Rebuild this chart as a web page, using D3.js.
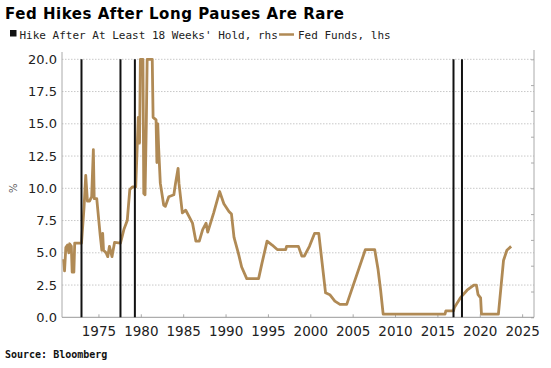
<!DOCTYPE html>
<html>
<head>
<meta charset="utf-8">
<script src="https://cdn.jsdelivr.net/npm/d3@7"></script>
<style>
  body { margin: 0; background: #fff; }
  svg { display: block; }
</style>
</head>
<body>
<svg width="551" height="368"></svg>
<script>
// Fed funds rate (decimal year, percent)
const fedYears = [1970.9, 1971.0, 1971.15, 1971.35, 1971.5, 1971.6, 1971.8, 1971.9, 1972.1, 1972.2, 1973.0,
  1973.3, 1973.5, 1973.7, 1973.95, 1974.2, 1974.4, 1974.5, 1974.8, 1975.2, 1975.4, 1975.5, 1975.6, 1975.9,
  1976.1, 1976.3, 1976.6, 1976.9, 1977.6, 1978.0, 1978.4, 1978.7, 1979.0, 1979.4, 1979.7, 1979.85, 1979.95,
  1980.25, 1980.35, 1980.5, 1980.65, 1980.75, 1981.35, 1981.45, 1981.8, 1981.9, 1982.0, 1982.1, 1982.3,
  1982.7, 1982.9, 1983.3, 1983.9, 1984.1, 1984.4, 1984.5, 1984.9, 1985.3, 1985.7, 1986.1, 1986.5, 1986.9,
  1987.3, 1987.7, 1987.9, 1988.6, 1989.3, 1989.8, 1990.4, 1990.7, 1991.0, 1991.5, 1991.9, 1992.5, 1993.9,
  1994.3, 1994.9, 1995.5, 1996.1, 1997.1, 1997.2, 1998.6, 1999.0, 1999.3, 1999.9, 2000.5, 2001.0, 2001.4,
  2001.8, 2002.3, 2002.9, 2003.5, 2004.3, 2006.5, 2007.6, 2008.0, 2008.3, 2008.6, 2015.9, 2016.0, 2016.9,
  2017.0, 2017.7, 2018.5, 2019.3, 2019.6, 2019.8, 2020.1, 2020.2, 2022.2, 2022.8, 2023.2, 2023.7];
const fedRates = [4.5, 3.6, 5.4, 5.6, 5.0, 5.7, 5.5, 3.5, 3.5, 5.75, 5.75,
  8.5, 11.0, 9.0, 9.0, 9.35, 13.0, 9.2, 9.2, 6.4, 5.2, 6.5, 5.2, 5.0,
  4.7, 5.5, 4.7, 5.8, 5.75, 6.8, 7.5, 9.9, 10.1, 10.1, 15.5, 13.5, 20,
  20, 9.6, 9.5, 15, 20, 20, 15.5, 15.3, 12.0, 15.0, 13.2, 10.4,
  8.7, 8.6, 9.35, 9.5, 10.4, 11.55, 10.4, 8.1, 8.3, 7.8, 7.3, 5.9, 5.9,
  6.8, 7.3, 6.6, 8.1, 9.75, 8.8, 8.2, 8.0, 6.2, 5.0, 3.9, 3.0, 3.0,
  4.2, 5.9, 5.6, 5.25, 5.25, 5.5, 5.5, 4.75, 4.75, 5.5, 6.5, 6.5, 4.2,
  1.9, 1.75, 1.25, 1.0, 1.0, 5.25, 5.25, 3.7, 2.1, 0.25, 0.25, 0.5, 0.5,
  0.75, 1.5, 2.1, 2.5, 2.5, 1.75, 1.5, 0.25, 0.25, 4.4, 5.2, 5.5];

// Hikes after at least 18 weeks' hold
const hikeYears = [1973.0, 1977.6, 1979.3, 2016.9, 2017.9];

const yTicks = [0, 2.5, 5, 7.5, 10, 12.5, 15, 17.5, 20];
const xTicks = [1975, 1980, 1985, 1990, 1995, 2000, 2005, 2010, 2015, 2020, 2025];

const fedData = fedYears.map((yr, i) => ({ yr, v: fedRates[i] }));

const plotLeft = 62, plotRight = 534, plotTop = 52, plotBottom = 317.3;
const lineColor = "#b08a55";

const svg = d3.select("svg");

const x = d3.scaleLinear().domain([1970.7, 2026.4]).range([plotLeft, plotRight]);
const y = d3.scaleLinear().domain([0, 20]).range([plotBottom, 59.3]);
const yR = d3.scaleLinear().domain([0, 10]).range([plotBottom, 59.3]);

// Title + legend
svg.append("text")
    .attr("x", 5).attr("y", 18.5)
    .style("font-family", "'DejaVu Sans', sans-serif")
    .style("font-weight", "bold")
    .style("font-size", "15px")
    .attr("textLength", 339)
    .text("Fed Hikes After Long Pauses Are Rare");

svg.append("rect")
    .attr("x", 10).attr("y", 30).attr("width", 6.5).attr("height", 6.5)
    .attr("fill", "#111");
svg.append("text")
    .attr("x", 19.5).attr("y", 38.5)
    .style("font-family", "'DejaVu Sans Mono', monospace")
    .style("font-size", "11px")
    .attr("fill", "#222")
    .text("Hike After At Least 18 Weeks' Hold, rhs");
svg.append("line")
    .attr("x1", 279).attr("x2", 294).attr("y1", 34.5).attr("y2", 34.5)
    .attr("stroke", lineColor).attr("stroke-width", 2.5);
svg.append("text")
    .attr("x", 298).attr("y", 38.5)
    .style("font-family", "'DejaVu Sans Mono', monospace")
    .style("font-size", "11px")
    .attr("fill", "#222")
    .text("Fed Funds, lhs");

// Gridlines (dotted)
svg.append("g")
    .selectAll("line")
    .data(yTicks.filter(d => d > 0))
    .enter().append("line")
    .attr("x1", plotLeft).attr("x2", plotRight)
    .attr("y1", d => y(d)).attr("y2", d => y(d))
    .attr("stroke", "#c8c8c8")
    .attr("stroke-dasharray", "1.5,1.5");

// Left axis
const yAxis = svg.append("g")
    .attr("transform", `translate(${plotLeft},0)`)
    .call(d3.axisLeft(y).tickValues(yTicks).tickFormat(d3.format(".1f")).tickSize(0).tickPadding(5));
yAxis.select(".domain").remove();
yAxis.selectAll("text")
    .style("font-family", "'DejaVu Sans', sans-serif")
    .style("font-size", "13px")
    .attr("fill", "#222");

// Right axis: ticks only
const rAxis = svg.append("g")
    .attr("transform", `translate(${plotRight},0)`)
    .call(d3.axisRight(yR).ticks(10).tickSize(-3).tickFormat(""));
rAxis.select(".domain").remove();
rAxis.selectAll("line").attr("stroke", "#aaa");

// Bottom axis
const xAxis = svg.append("g")
    .attr("transform", `translate(0,${plotBottom})`)
    .call(d3.axisBottom(x).tickValues(xTicks).tickFormat(d3.format("d")).tickSize(-3).tickPadding(9));
xAxis.select(".domain").remove();
xAxis.selectAll("line").attr("stroke", "#aaa");
xAxis.selectAll("text")
    .style("font-family", "'DejaVu Sans', sans-serif")
    .style("font-size", "13.5px")
    .attr("fill", "#222");

// Frame lines
svg.append("line").attr("x1", plotLeft).attr("x2", plotLeft).attr("y1", plotTop).attr("y2", plotBottom)
    .attr("stroke", "#aaa");
svg.append("line").attr("x1", plotRight).attr("x2", plotRight).attr("y1", 50).attr("y2", plotBottom)
    .attr("stroke", "#aaa");
svg.append("line").attr("x1", plotLeft).attr("x2", plotRight).attr("y1", plotBottom).attr("y2", plotBottom)
    .attr("stroke", "#999");

// Y axis unit
svg.append("text")
    .attr("transform", `translate(17,${(plotBottom + 59.3) / 2}) rotate(-90)`)
    .attr("text-anchor", "middle")
    .style("font-family", "'DejaVu Sans', sans-serif")
    .style("font-size", "10px")
    .attr("fill", "#555")
    .text("%");

// Fed funds line
const line = d3.line().x(d => x(d.yr)).y(d => y(d.v));
svg.append("path")
    .datum(fedData)
    .attr("d", line)
    .attr("fill", "none")
    .attr("stroke", lineColor)
    .attr("stroke-width", 2.8)
    .attr("stroke-linejoin", "round");

// Hike lines
svg.append("g")
    .selectAll("line")
    .data(hikeYears)
    .enter().append("line")
    .attr("x1", d => x(d)).attr("x2", d => x(d))
    .attr("y1", yR(10)).attr("y2", yR(0))
    .attr("stroke", "#111")
    .attr("stroke-width", 2);

// Source
svg.append("text")
    .attr("x", 5).attr("y", 358)
    .style("font-family", "'DejaVu Sans Mono', monospace")
    .style("font-weight", "bold")
    .style("font-size", "10px")
    .attr("fill", "#111")
    .text("Source: Bloomberg");
</script>
</body>
</html>
